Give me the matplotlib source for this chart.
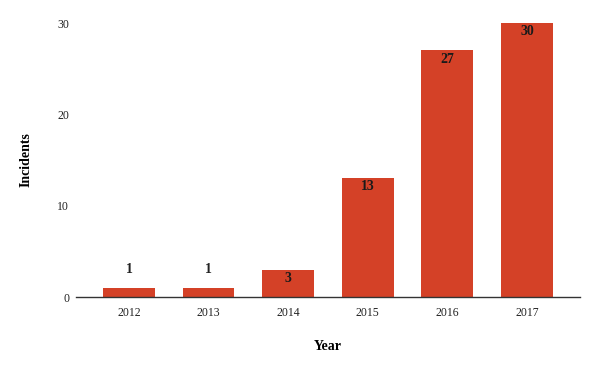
import matplotlib.pyplot as plt

# Dados
years = ['2012', '2013', '2014', '2015', '2016', '2017']
incidents = [1, 1, 3, 13, 27, 30]

plt.rcParams['font.family'] = ['Liberation Serif', 'DejaVu Serif']

fig = plt.figure(figsize=(5.96, 3.66), dpi=100)
ax = fig.add_axes([0.1275, 0.1885, 0.8455, 0.7485])

x = list(range(len(years)))
bars = ax.bar(x, incidents, width=0.65, color='#D44127')

# rótulos de valor
for xi, v in zip(x, incidents):
    if v < 3:
        ax.text(xi, v + 2.0, str(v), ha='center', va='center', fontsize=10,
                fontweight='bold', color='#222222')
    else:
        ax.text(xi, v - 0.95, str(v), ha='center', va='center', fontsize=10,
                fontweight='bold', color='#1a1a1a')

ax.set_xlim(-0.666, 5.666)
ax.set_ylim(0, 30)
ax.set_xticks(x)
ax.set_xticklabels(years)
ax.set_yticks([0, 10, 20, 30])
ax.tick_params(length=0, labelsize=8.5, colors='#222222')
ax.tick_params(axis='x', pad=7)
ax.tick_params(axis='y', pad=5)

for s in ['top', 'right', 'left']:
    ax.spines[s].set_visible(False)
ax.spines['bottom'].set_color('#333333')
ax.spines['bottom'].set_linewidth(1)

ax.set_xlabel('Year', fontsize=10, fontweight='bold', labelpad=15)
ax.set_ylabel('Incidents', fontsize=10, fontweight='bold', labelpad=18)

fig.savefig('out.png', dpi=100)
